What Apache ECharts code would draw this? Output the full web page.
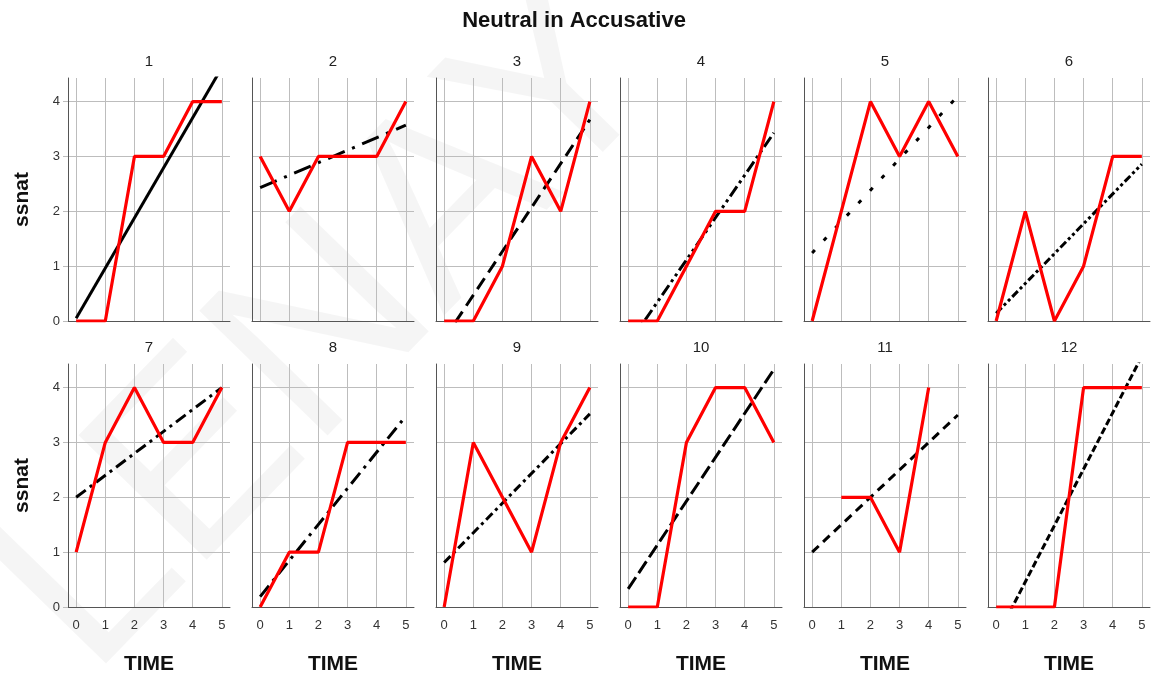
<!DOCTYPE html>
<html>
<head>
<meta charset="utf-8">
<title>Neutral in Accusative</title>
<script src="https://cdn.jsdelivr.net/npm/echarts@6/dist/echarts.min.js"></script>
<style>
html, body { margin: 0; padding: 0; background: #fff; }
#main { width: 1157px; height: 679px; }
</style>
</head>
<body>
<div id="main"></div>
<script>
var times = [0, 1, 2, 3, 4, 5];
var ssnatTicks = [0, 1, 2, 3, 4];
var panelNames = ['1', '2', '3', '4', '5', '6', '7', '8', '9', '10', '11', '12'];

//observed ssnat per panel, one value per TIME
var ssnat1 = [0, 0, 3, 3, 4, 4];
var ssnat2 = [3, 2, 3, 3, 3, 4];
var ssnat3 = [0, 0, 1, 3, 2, 4];
var ssnat4 = [0, 0, 1, 2, 2, 4];
var ssnat5 = [0, 2, 4, 3, 4, 3];
var ssnat6 = [0, 2, 0, 1, 3, 3];
var ssnat7 = [1, 3, 4, 3, 3, 4];
var ssnat8 = [0, 1, 1, 3, 3, 3];
var ssnat9 = [0, 3, 2, 1, 3, 4];
var ssnat10 = [0, 0, 3, 4, 4, 3];
var ssnat11 = [null, 2, 2, 1, 4, null];
var ssnat12 = [0, 0, 0, 4, 4, 4];

//fitted line, value read at TIME 0 and at TIME 5
var fitStart = [0.05, 2.43, -0.33, -0.43, 1.24, 0.14, 2.00, 0.19, 0.81, 0.33, 1.00, -0.57];
var fitEnd = [4.62, 3.57, 3.67, 3.43, 4.10, 2.86, 4.00, 3.48, 3.52, 4.33, 3.50, 4.57];

var obs = [ssnat1, ssnat2, ssnat3, ssnat4, ssnat5, ssnat6,
           ssnat7, ssnat8, ssnat9, ssnat10, ssnat11, ssnat12];

//line pattern of each fitted line
var dashTypes = [
    'solid', [18, 8, 3, 8], [13, 7], [12, 4, 3, 4, 3, 4], [4, 13], [8, 3, 3, 3, 3, 3],
    [12, 5, 3, 5], [14, 6, 3, 6], [9, 4, 3, 4], [14, 5], [9, 6], [7, 3]
];

(function () {
    var fontFam = '"Liberation Sans", Arial, sans-serif';
    var gridColor = '#bdbdbd', axisColor = '#555';
    var grids = [], xAxes = [], yAxes = [], series = [], graphics = [];

    //faint watermark behind the panels
    graphics.push({
        type: 'text', x: 330, y: 330, rotation: 0.8, z: -10, silent: true,
        style: {
            text: 'LENAY', fontSize: 260, fontFamily: fontFam,
            fill: 'rgba(0,0,0,0.04)', textAlign: 'center', textVerticalAlign: 'middle'
        }
    });
    graphics.push({
        type: 'text', x: 574, y: 21,
        style: {
            text: 'Neutral in Accusative', fontSize: 22, fontWeight: 'bold', fontFamily: fontFam,
            fill: '#111', textAlign: 'center', textVerticalAlign: 'middle'
        }
    });

    for (var i = 0; i < 12; i++) {
        var row = Math.floor(i / 6), col = i % 6;
        var gLeft = 68 + col * 184, gTop = row === 0 ? 78 : 364;

        grids.push({ left: gLeft, top: gTop, width: 162, height: 243 });

        xAxes.push({
            type: 'value', gridIndex: i, min: -0.28, max: 5.28,
            name: row === 1 ? 'TIME' : '', nameLocation: 'middle', nameGap: 47,
            nameTextStyle: { fontSize: 21, fontWeight: 'bold', fontFamily: fontFam, color: '#111' },
            axisLine: { show: true, onZero: false, lineStyle: { color: axisColor, width: 1 } },
            axisTick: { show: false, customValues: times },
            axisLabel: {
                show: row === 1, customValues: times, margin: 12,
                fontSize: 13, fontFamily: fontFam, color: '#333'
            },
            splitLine: { show: true, lineStyle: { color: gridColor, width: 1 } }
        });

        yAxes.push({
            type: 'value', gridIndex: i, min: 0, max: 4.43,
            name: col === 0 ? 'ssnat' : '', nameLocation: 'middle', nameGap: 35,
            nameTextStyle: { fontSize: 21, fontWeight: 'bold', fontFamily: fontFam, color: '#111' },
            axisLine: { show: true, onZero: false, lineStyle: { color: axisColor, width: 1 } },
            axisTick: {
                show: col === 0, customValues: ssnatTicks, length: 5,
                lineStyle: { color: gridColor }
            },
            axisLabel: {
                show: col === 0, customValues: ssnatTicks, margin: 8,
                fontSize: 13, fontFamily: fontFam, color: '#333'
            },
            splitLine: { show: true, lineStyle: { color: gridColor, width: 1 } }
        });

        series.push({
            type: 'line', xAxisIndex: i, yAxisIndex: i, symbol: 'none', silent: true, z: 2,
            data: [[times[0], fitStart[i]], [times[times.length - 1], fitEnd[i]]],
            lineStyle: { color: '#000', width: 3, type: dashTypes[i], cap: 'butt' }
        });

        var pts = [];
        for (var t = 0; t < times.length; t++) {
            if (obs[i][t] !== null) pts.push([times[t], obs[i][t]]);
        }
        series.push({
            type: 'line', xAxisIndex: i, yAxisIndex: i, symbol: 'none', silent: true, z: 3,
            data: pts,
            lineStyle: { color: '#ff0000', width: 3.2 }
        });

        graphics.push({
            type: 'text', x: gLeft + 81, y: gTop - 16,
            style: {
                text: panelNames[i], fontSize: 15, fontFamily: fontFam, fill: '#222',
                textAlign: 'center', textVerticalAlign: 'middle'
            }
        });
    }

    var chart = echarts.init(document.getElementById('main'));
    chart.setOption({
        animation: false,
        backgroundColor: '#fff',
        grid: grids,
        xAxis: xAxes,
        yAxis: yAxes,
        series: series,
        graphic: graphics
    });
    window.onresize = chart.resize;
})();
</script>
</body>
</html>
